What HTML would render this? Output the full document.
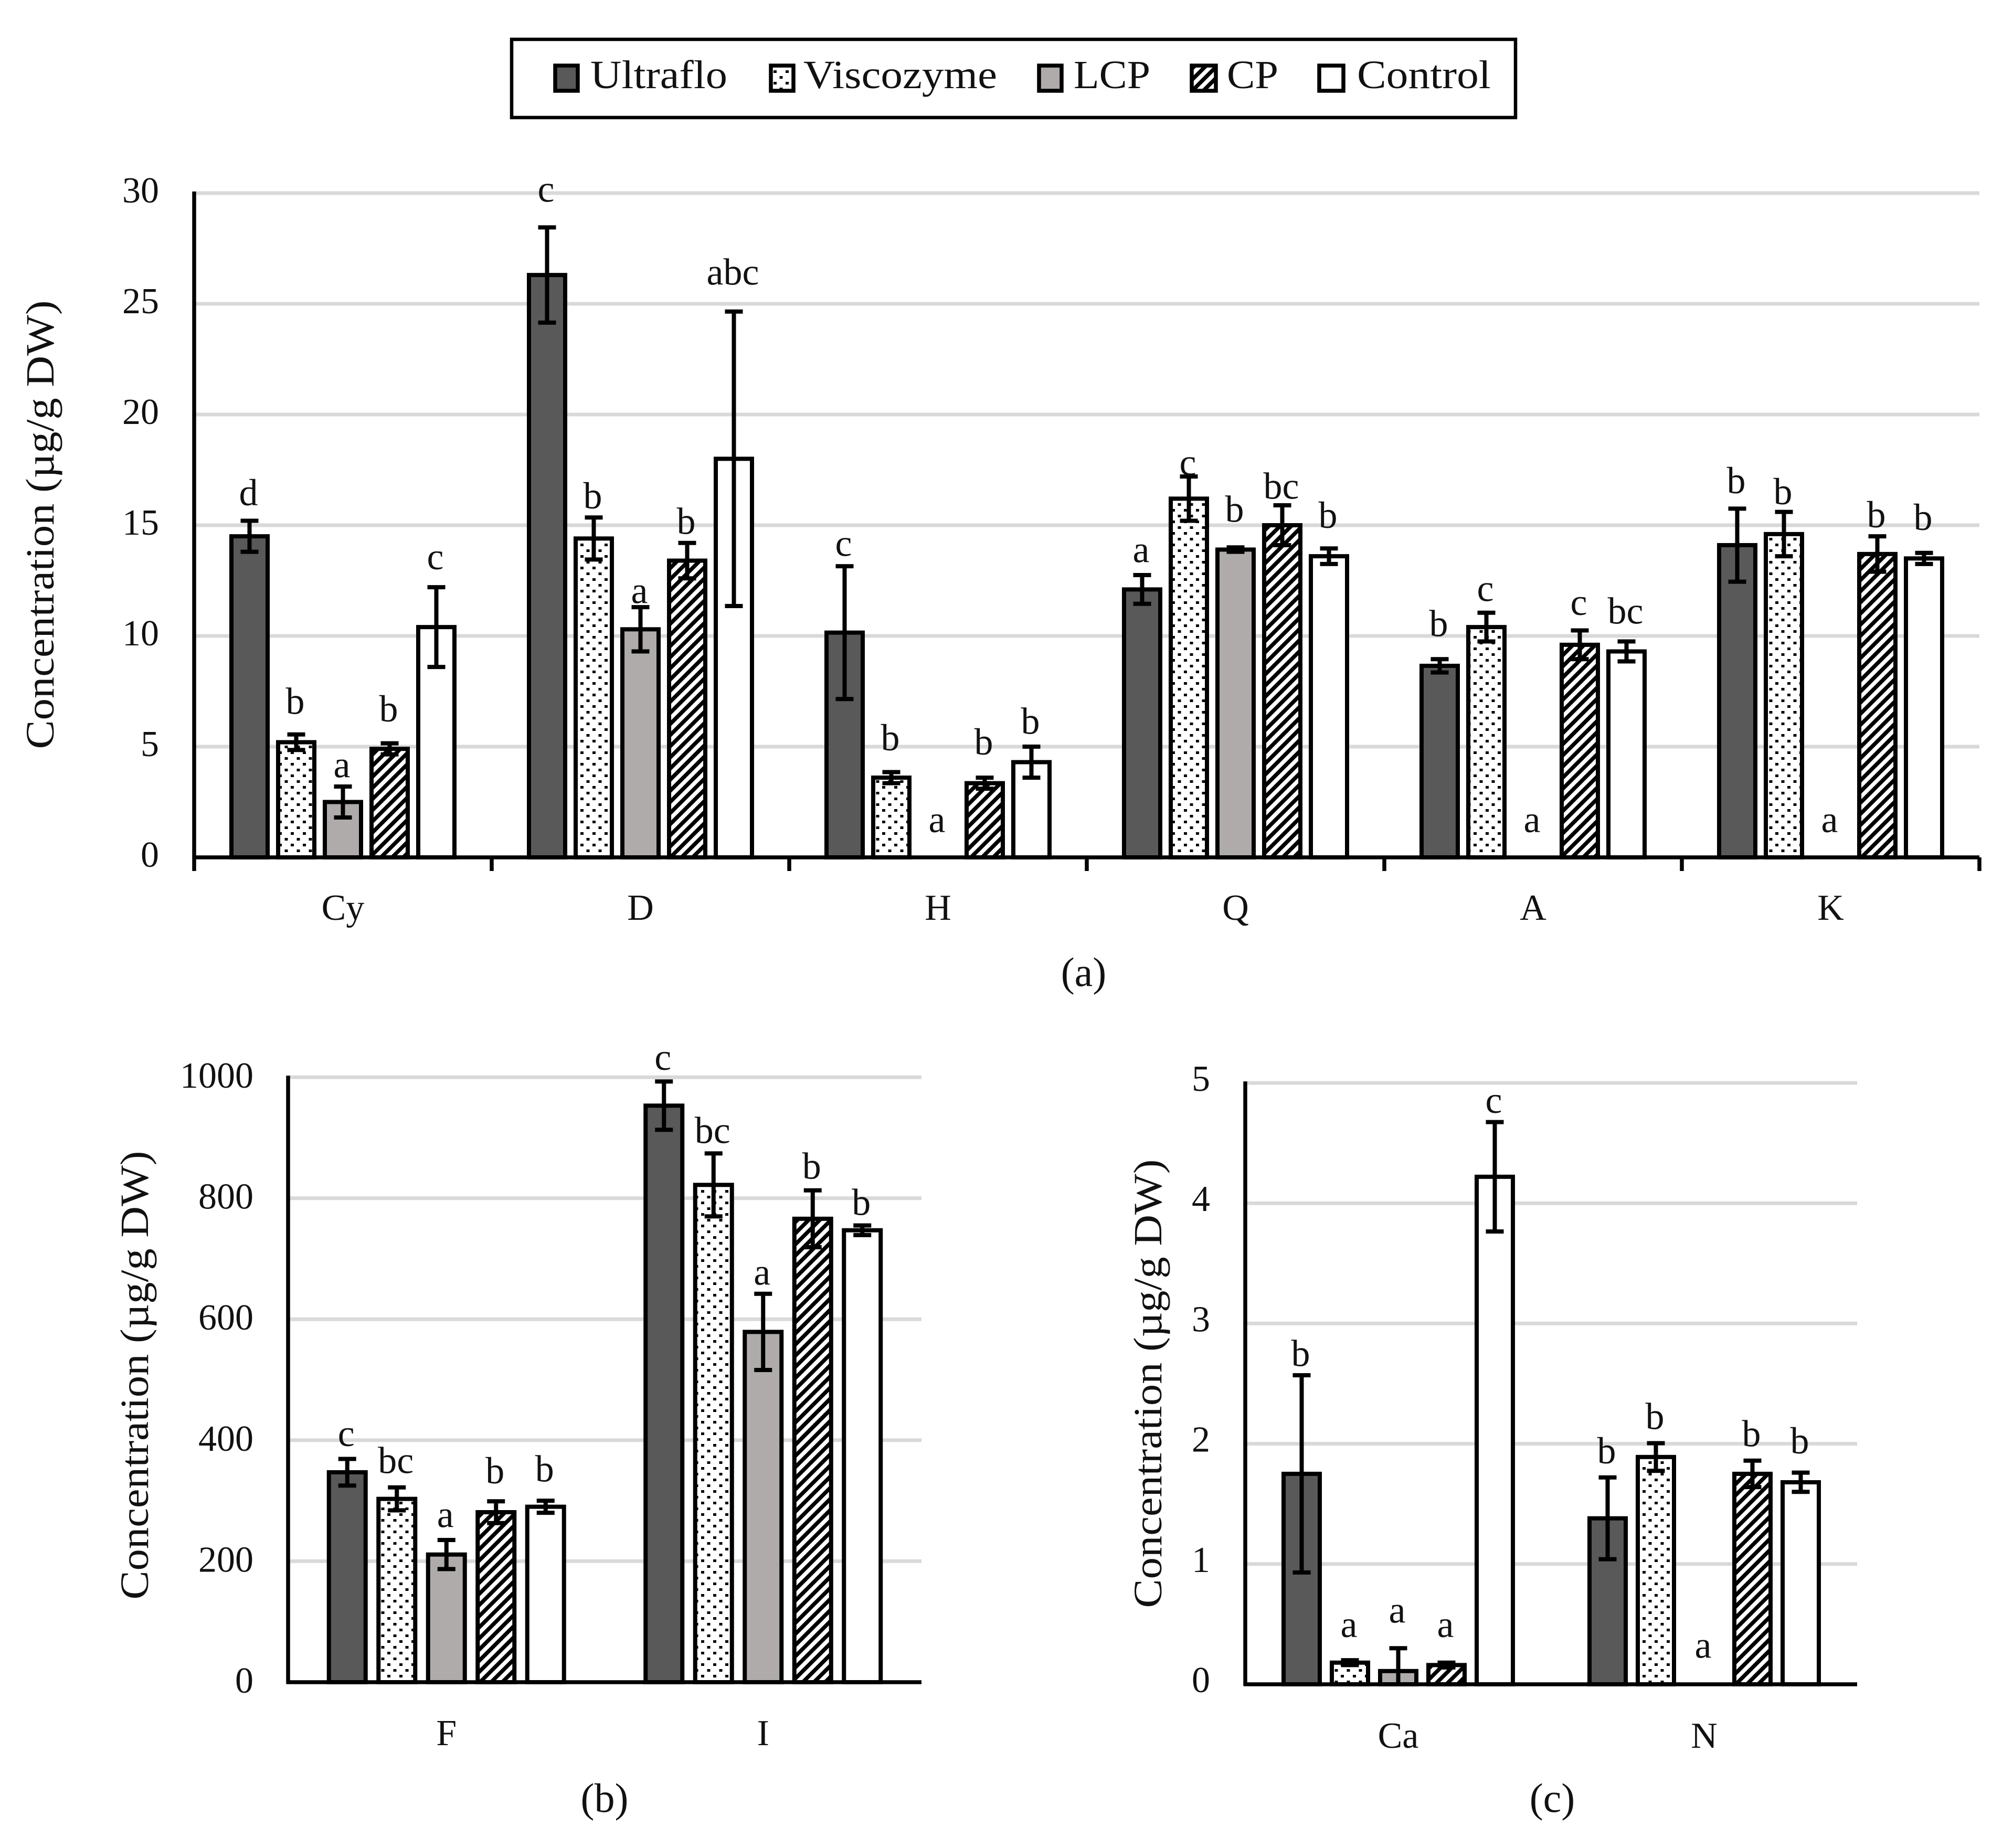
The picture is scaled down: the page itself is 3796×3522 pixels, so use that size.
<!DOCTYPE html>
<html lang="en">
<head>
<meta charset="utf-8">
<title>Concentration charts</title>
<style>
html,body{margin:0;padding:0;background:#fff;width:3796px;height:3522px;overflow:hidden}
svg{display:block}
text{font-family:"Liberation Serif",serif;fill:#111}
</style>
</head>
<body>
<svg id="figure" xmlns="http://www.w3.org/2000/svg" width="3796" height="3522" viewBox="0 0 3796 3522">
  <defs>
    <pattern id="dots" patternUnits="userSpaceOnUse" width="23" height="22">
      <rect width="23" height="22" fill="#fff"/>
      <rect x="2" y="2" width="6" height="5" fill="#000"/>
      <rect x="13.5" y="13" width="6" height="5" fill="#000"/>
    </pattern>
    <pattern id="hatch" patternUnits="userSpaceOnUse" width="15" height="15" patternTransform="rotate(45)">
      <rect width="15" height="15" fill="#fff"/>
      <rect x="0" y="0" width="7.5" height="15" fill="#000"/>
    </pattern>
  </defs>
  <rect width="3796" height="3522" fill="#fff"/>

  <g>
    <rect x="975" y="75" width="1913" height="149" fill="#fff" stroke="#000" stroke-width="6.5"/>
    <rect x="1058" y="125" width="43" height="48" fill="#595959" stroke="#000" stroke-width="7.5"/>
    <text x="1125" y="168" font-size="76" textLength="261" lengthAdjust="spacingAndGlyphs">Ultraflo</text>
    <rect x="1469" y="125" width="43" height="48" fill="url(#dots)" stroke="#000" stroke-width="7.5"/>
    <text x="1531" y="168" font-size="76" textLength="369" lengthAdjust="spacingAndGlyphs">Viscozyme</text>
    <rect x="1980" y="125" width="43" height="48" fill="#afabab" stroke="#000" stroke-width="7.5"/>
    <text x="2046" y="168" font-size="76" textLength="146" lengthAdjust="spacingAndGlyphs">LCP</text>
    <rect x="2271" y="125" width="46" height="48" fill="url(#hatch)" stroke="#000" stroke-width="7.5"/>
    <text x="2338" y="168" font-size="76" textLength="98" lengthAdjust="spacingAndGlyphs">CP</text>
    <rect x="2514" y="125" width="46" height="48" fill="#fff" stroke="#000" stroke-width="7.5"/>
    <text x="2586" y="168" font-size="76" textLength="255" lengthAdjust="spacingAndGlyphs">Control</text>
  </g>
</svg>

<script>
// Panel (a)
const aCategories = ['Cy', 'D', 'H', 'Q', 'A', 'K'];
const aTicks = [0, 5, 10, 15, 20, 25, 30];
const aUltraflo = [14.5, 26.3, 10.15, 12.1, 8.65, 14.1];
const aUltrafloErr = [0.7, 2.15, 3.0, 0.65, 0.3, 1.65];
const aUltrafloLetters = ['d', 'c', 'c', 'a', 'b', 'b'];
const aViscozyme = [5.2, 14.4, 3.6, 16.2, 10.4, 14.6];
const aViscozymeErr = [0.35, 0.95, 0.25, 1.0, 0.65, 1.0];
const aViscozymeLetters = ['b', 'b', 'b', 'c', 'c', 'b'];
const aLCP = [2.5, 10.3, 0, 13.9, 0, 0];
const aLCPErr = [0.7, 1.0, 0, 0.1, 0, 0];
const aLCPLetters = ['a', 'a', 'a', 'b', 'a', 'a'];
const aCP = [4.9, 13.4, 3.35, 15.0, 9.6, 13.7];
const aCPErr = [0.25, 0.8, 0.25, 0.9, 0.65, 0.8];
const aCPLetters = ['b', 'b', 'b', 'bc', 'c', 'b'];
const aControl = [10.4, 18.0, 4.3, 13.6, 9.3, 13.5];
const aControlErr = [1.8, 6.65, 0.7, 0.35, 0.45, 0.25];
const aControlLetters = ['c', 'abc', 'b', 'b', 'bc', 'b'];

// Panel (b)
const bCategories = ['F', 'I'];
const bTicks = [0, 200, 400, 600, 800, 1000];
const bUltraflo = [347, 953];
const bUltrafloErr = [22, 40];
const bUltrafloLetters = ['c', 'c'];
const bViscozyme = [303, 822];
const bViscozymeErr = [19, 52];
const bViscozymeLetters = ['bc', 'bc'];
const bLCP = [211, 579];
const bLCPErr = [24, 63];
const bLCPLetters = ['a', 'a'];
const bCP = [281, 766];
const bCPErr = [18, 47];
const bCPLetters = ['b', 'b'];
const bControl = [290, 747];
const bControlErr = [10, 8];
const bControlLetters = ['b', 'b'];

// Panel (c)
const cCategories = ['Ca', 'N'];
const cTicks = [0, 1, 2, 3, 4, 5];
const cUltraflo = [1.75, 1.38];
const cUltrafloErr = [0.82, 0.34];
const cUltrafloLetters = ['b', 'b'];
const cViscozyme = [0.18, 1.89];
const cViscozymeErr = [0.02, 0.115];
const cViscozymeLetters = ['a', 'b'];
const cLCP = [0.11, 0];
const cLCPErr = [0.19, 0];
const cLCPLetters = ['a', 'a'];
const cCP = [0.16, 1.75];
const cCPErr = [0.02, 0.11];
const cCPLetters = ['a', 'b'];
const cControl = [4.22, 1.68];
const cControlErr = [0.455, 0.08];
const cControlLetters = ['c', 'b'];

const seriesNames = ['ultraflo', 'viscozyme', 'lcp', 'cp', 'control'];
const seriesFills = ['#595959', 'url(#dots)', '#afabab', 'url(#hatch)', '#fff'];

const svgNS = 'http://www.w3.org/2000/svg';
const root = document.getElementById('figure');

function mk(parent, tag, attrs, txt) {
  const el = document.createElementNS(svgNS, tag);
  for (const k in attrs) el.setAttribute(k, attrs[k]);
  if (txt !== undefined) el.textContent = txt;
  parent.appendChild(el);
  return el;
}

function drawPanel(p) {
  const g = mk(root, 'g', {});
  
  

  const maxTick = p.ticks[p.ticks.length - 1];
  const yScale = v => p.y0 - (v / maxTick) * (p.y0 - p.yTop);
  const catW = (p.xRight - p.xAxis) / p.categories.length;
  const xCenter = i => p.xAxis + catW * (i + 0.5);
  const xBar = (i, s) => xCenter(i) + (s - 2) * p.pitch;

  // gridlines & tick labels
  p.ticks.forEach(t => {
    if (t !== 0) {
      const grid = mk(g, 'line', {x1: p.xAxis, x2: p.xRight, y1: yScale(t), y2: yScale(t), stroke: '#d9d9d9', 'stroke-width': 7});
      
      
    }
    const lab = mk(g, 'text', {x: p.tickRight, y: yScale(t) + 23 + p.tickShift, 'font-size': 70, 'text-anchor': 'end'}, String(t));
    
    
  });

  // bars
  p.values.forEach((series, s) => {
    series.forEach((v, i) => {
      if (v <= 0) return;
      const bar = mk(g, 'rect', {x: xBar(i, s) - p.barW / 2, y: yScale(v), width: p.barW, height: p.y0 - yScale(v), fill: seriesFills[s], stroke: '#000', 'stroke-width': 8});
      
      
    });
  });

  // axes
  const xAxisLine = mk(g, 'line', {x1: p.xAxis - 3, x2: p.xRight, y1: p.y0, y2: p.y0, stroke: '#000', 'stroke-width': 7.5});
  
  
  const yAxisLine = mk(g, 'line', {x1: p.xAxis, x2: p.xAxis, y1: p.yTop - 3, y2: p.y0 + (p.xTicks ? p.xTicks : 3), stroke: '#000', 'stroke-width': 7.5});
  
  
  if (p.xTicks) {
    for (let i = 1; i <= p.categories.length; i++) {
      const tick = mk(g, 'line', {x1: p.xAxis + catW * i, x2: p.xAxis + catW * i, y1: p.y0, y2: p.y0 + p.xTicks, stroke: '#000', 'stroke-width': 7.5});
      
      
    }
  }

  // error bars & significance letters
  p.values.forEach((series, s) => {
    series.forEach((v, i) => {
      const cx = xBar(i, s);
      const e = p.errors[s][i];
      if (v > 0) {
        const top = yScale(v + e);
        const bottom = yScale(Math.max(0, v - e));
        const stem = mk(g, 'line', {x1: cx, x2: cx, y1: top, y2: bottom, stroke: '#000', 'stroke-width': 8});
        
        
        const capTop = mk(g, 'line', {x1: cx - 17, x2: cx + 17, y1: top, y2: top, stroke: '#000', 'stroke-width': 8});
        
        
        if (v - e > 0) {
          const capBottom = mk(g, 'line', {x1: cx - 17, x2: cx + 17, y1: bottom, y2: bottom, stroke: '#000', 'stroke-width': 8});
          
          
        }
      }
      const gap = (v > 0 ? 27 : 48) - 2.42 * p.letterNudge[s][i];
      const letter = mk(g, 'text', {x: cx - 2, y: yScale(v + e) - gap, 'font-size': 72, 'text-anchor': 'middle'}, p.letters[s][i]);
      
      
    });
  });

  // category labels
  p.categories.forEach((c, i) => {
    const lab = mk(g, 'text', {x: xCenter(i), y: p.catBase, 'font-size': 70, 'text-anchor': 'middle'}, c);
    
    
  });

  // y-axis title
  const title = mk(g, 'text', {transform: 'translate(' + p.titleX + ' ' + p.titleY + ') rotate(-90)', x: 0, y: 0, 'font-size': 76, 'text-anchor': 'middle', textLength: 855, lengthAdjust: 'spacingAndGlyphs'}, 'Concentration (µg/g DW)');
  
  

  // panel caption
  const cap = mk(g, 'text', {x: p.capX, y: p.capY, 'font-size': 78, 'text-anchor': 'middle'}, '(' + p.id + ')');
  
  
}

drawPanel({
  id: 'a', categories: aCategories, ticks: aTicks,
  values: [aUltraflo, aViscozyme, aLCP, aCP, aControl],
  errors: [aUltrafloErr, aViscozymeErr, aLCPErr, aCPErr, aControlErr],
  letters: [aUltrafloLetters, aViscozymeLetters, aLCPLetters, aCPLetters, aControlLetters],
  letterNudge: [[-1, -9, 3, 1, -7, -1], [-5, 4, -6, 10, 2, 5], [4, 8, 0, -9, 0, 0], [-6, 4, -7, 6, -1, 4], [-3, -10, 1, -5, -3, -7]],
  xAxis: 370, xRight: 3772, y0: 1634, yTop: 368, pitch: 89, barW: 69, xTicks: 26,
  tickRight: 303, tickShift: -5, catBase: 1753, titleX: 102, titleY: 1000, capX: 2065, capY: 1879
});
drawPanel({
  id: 'b', categories: bCategories, ticks: bTicks,
  values: [bUltraflo, bViscozyme, bLCP, bCP, bControl],
  errors: [bUltrafloErr, bViscozymeErr, bLCPErr, bCPErr, bControlErr],
  letters: [bUltrafloLetters, bViscozymeLetters, bLCPLetters, bCPLetters, bControlLetters],
  letterNudge: [[1, 2], [0, 3], [1, 4], [-3, 2], [-4, 3]],
  xAxis: 549, xRight: 1756, y0: 3206, yTop: 2053, pitch: 94.5, barW: 70, xTicks: 0,
  tickRight: 483, tickShift: -3, catBase: 3326, titleX: 282, titleY: 2621, capX: 1152, capY: 3453
});
drawPanel({
  id: 'c', categories: cCategories, ticks: cTicks,
  values: [cUltraflo, cViscozyme, cLCP, cCP, cControl],
  errors: [cUltrafloErr, cViscozymeErr, cLCPErr, cCPErr, cControlErr],
  letters: [cUltrafloLetters, cViscozymeLetters, cLCPLetters, cCPLetters, cControlLetters],
  letterNudge: [[4, 0], [-7, 0], [-9, -1], [-9, 0], [4, -4]],
  xAxis: 2373, xRight: 3539, y0: 3210, yTop: 2064, pitch: 92, barW: 69, xTicks: 0,
  tickRight: 2306, tickShift: -8, catBase: 3331, titleX: 2213, titleY: 2637, capX: 2958, capY: 3453
});
</script>
</body>
</html>
